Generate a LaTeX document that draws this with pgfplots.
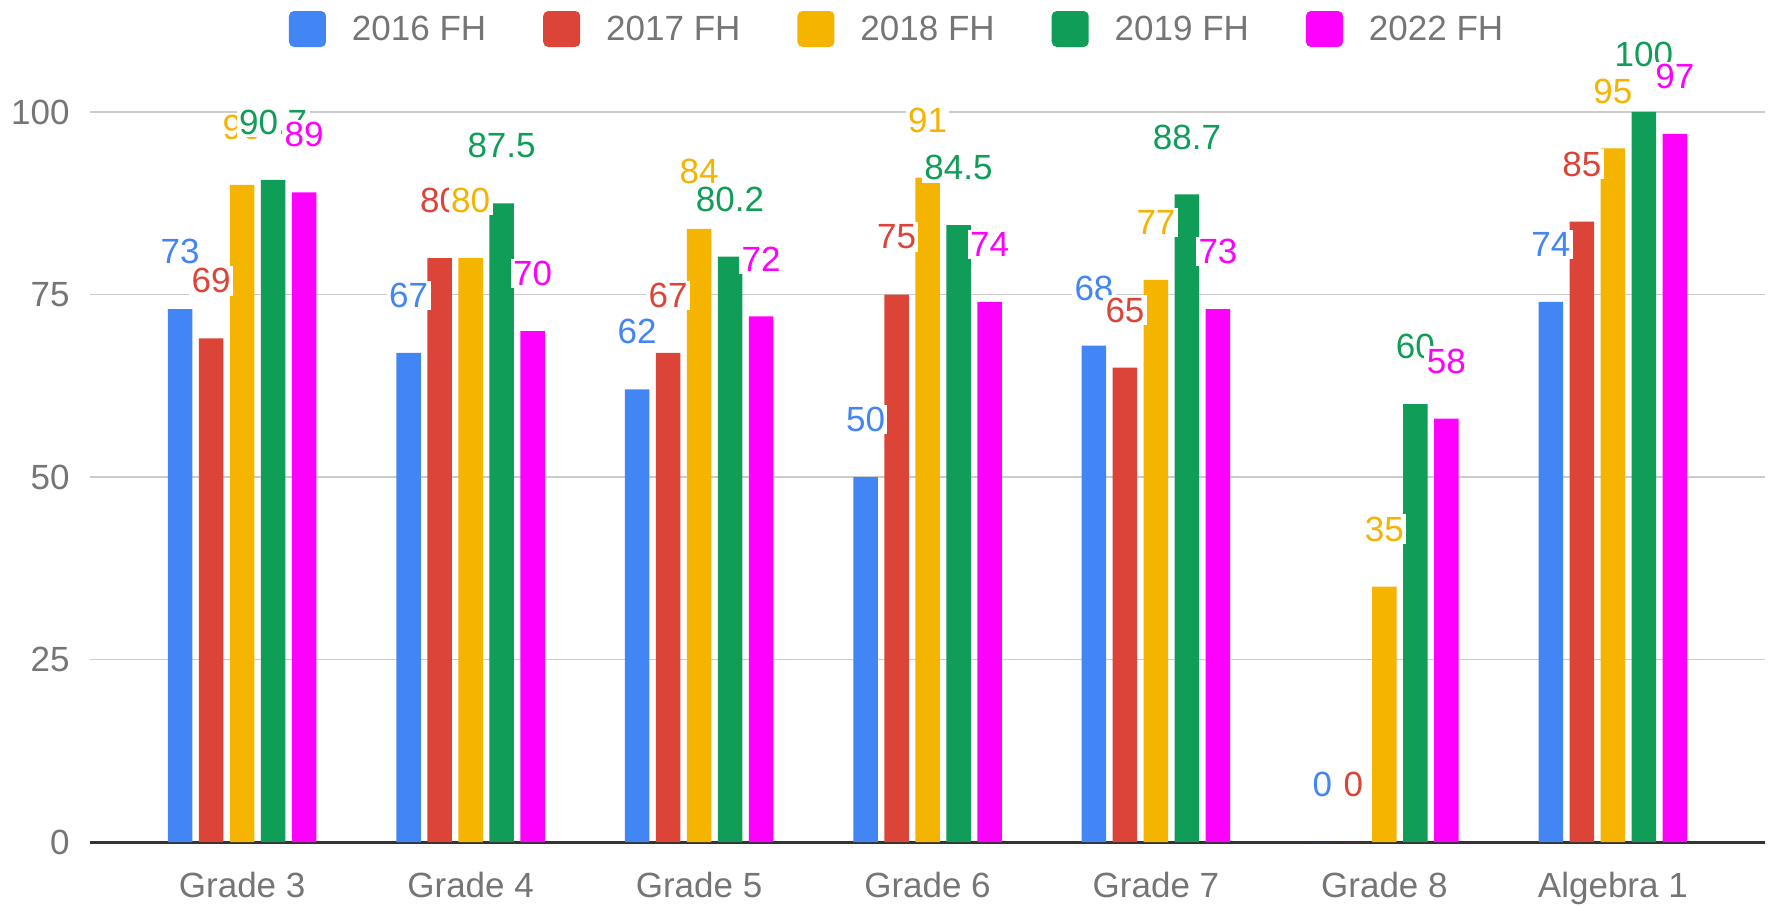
\documentclass[border=0pt]{standalone}
\usepackage{fontspec}
\setmainfont{Liberation Sans}
\usepackage{pgfplots}
\pgfplotsset{compat=1.18}
\definecolor{c1}{HTML}{4285F4}
\definecolor{c2}{HTML}{DB4437}
\definecolor{c3}{HTML}{F4B400}
\definecolor{c4}{HTML}{0F9D58}
\definecolor{c5}{HTML}{FF00FF}
\definecolor{txt}{HTML}{757575}
\definecolor{grd}{HTML}{CCCCCC}
\definecolor{axl}{HTML}{333333}
\pgfplotsset{
  legsq/.style={legend image code/.code={\fill[rounded corners=2pt] (0pt,-6.7pt) rectangle (14.8pt,7.7pt);}},
  lab/.style={every node near coord/.append style={text=#1}},
}
\begin{document}
\begin{tikzpicture}
\begin{axis}[
  scale only axis, width=670pt, height=292pt,
  xmin=-0.666, xmax=6.666, ymin=0, ymax=100,
  ybar, bar width=9.8pt,
  axis x line*=bottom, axis y line*=left,
  x axis line style={draw=axl, line width=1.2pt},
  y axis line style={draw=none},
  xtick={0,1,2,3,4,5,6},
  xticklabels={Grade 3,Grade 4,Grade 5,Grade 6,Grade 7,Grade 8,Algebra 1},
  ytick={0,25,50,75,100},
  ymajorgrids, grid style={draw=grd, line width=0.6pt},
  major tick length=0pt,
  tick style={draw=none},
  /pgf/number format/assume math mode=true,
  tick label style={font=\fontsize{14}{16}\selectfont, text=txt},
  yticklabel style={inner sep=0pt, xshift=-8pt},
  xticklabel style={inner sep=0pt, yshift=-12pt},
  nodes near coords,
  every node near coord/.append style={font=\fontsize{14}{16}\selectfont, fill=white, inner sep=1pt, anchor=center, yshift=23pt},
  set layers, mark layer=axis foreground,
  clip=false,
  legend columns=-1,
  legend style={draw=none, fill=none, at={(rel axis cs:0.1188,1.1137)}, anchor=west,
    inner sep=0pt, outer sep=0pt,
    nodes={inner sep=0pt, text=txt, font=\fontsize{14}{16}\selectfont},
    /tikz/every odd column/.append style={column sep=10.4pt},
    /tikz/every even column/.append style={column sep=22.8pt}},
]
\addplot[fill=c1, draw=none, bar shift=-24.8pt, legsq, lab=c1] coordinates {(0,73) (1,67) (2,62) (3,50) (4,68) (5,0) (6,74)};
\addlegendentry{2016 FH}
\addplot[fill=c2, draw=none, bar shift=-12.4pt, legsq, lab=c2] coordinates {(0,69) (1,80) (2,67) (3,75) (4,65) (5,0) (6,85)};
\addlegendentry{2017 FH}
\addplot[fill=c3, draw=none, bar shift=0pt, legsq, lab=c3] coordinates {(0,90) (1,80) (2,84) (3,91) (4,77) (5,35) (6,95)};
\addlegendentry{2018 FH}
\addplot[fill=c4, draw=none, bar shift=12.4pt, legsq, lab=c4] coordinates {(0,90.7) (1,87.5) (2,80.2) (3,84.5) (4,88.7) (5,60) (6,100)};
\addlegendentry{2019 FH}
\addplot[fill=c5, draw=none, bar shift=24.8pt, legsq, lab=c5] coordinates {(0,89) (1,70) (2,72) (3,74) (4,73) (5,58) (6,97)};
\addlegendentry{2022 FH}
\path (rel axis cs:-0.05373,-0.0863) rectangle (rel axis cs:1.00597,1.15342);
\end{axis}
\end{tikzpicture}
\end{document}
